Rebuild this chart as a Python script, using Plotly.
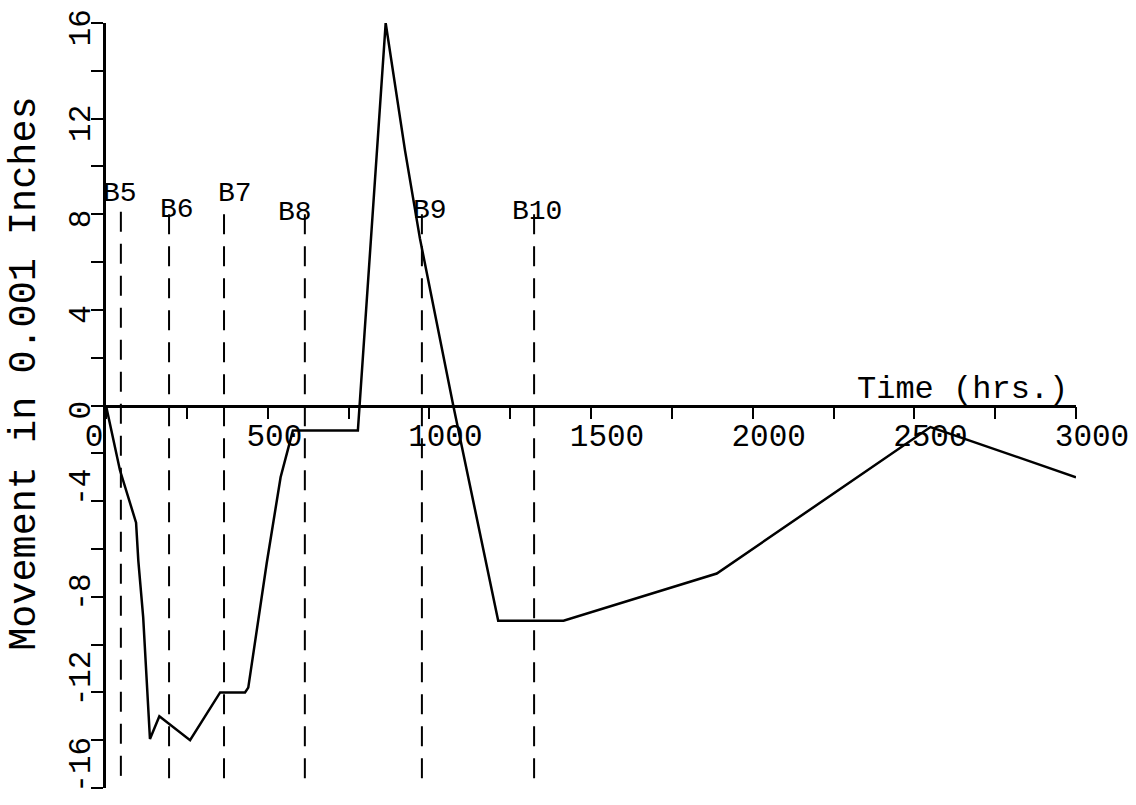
import plotly.graph_objects as go

# ---- data ----
time_hrs = [0, 43, 93, 100, 115, 126, 136, 165, 260, 353, 430, 440, 497, 540, 578,
            779, 865, 925, 971, 1074, 1213, 1415, 1889, 2550, 3000]
movement = [0, -2.7, -4.9, -6.5, -8.85, -11.35, -13.95, -13.0, -14.0, -12.0, -12.0,
            -11.8, -6.6, -3.0, -1.05, -1.05, 16.0, 10.65, 6.98, 0.0, -9.0, -9.0,
            -7.03, -0.9, -3.0]

marker_names = ["B5", "B6", "B7", "B8", "B9", "B10"]
marker_time = [46, 195, 365, 615, 977, 1324]
marker_top = [8.1, 8.0, 8.0, 8.0, 8.0, 8.0]
marker_bottom = [-15.7, -15.7, -15.7, -15.7, -15.7, -16.0]
label_time = [43, 220, 399, 585, 1002, 1333]
label_move = [8.86, 8.19, 8.86, 8.07, 8.15, 8.1]

x_tick_vals = [0, 250, 500, 750, 1000, 1250, 1500, 1750, 2000, 2250, 2500, 2750, 3000]
x_tick_text = ["0", "", "500", "", "1000", "", "1500", "", "2000", "", "2500", "", "3000"]
y_tick_vals = [-16, -14, -12, -10, -8, -6, -4, -2, 0, 2, 4, 6, 8, 10, 12, 14, 16]
y_tick_text = ["-16", "", "-12", "", "-8", "", "-4", "", "0", "", "4", "", "8", "", "12", "", "16"]

x_title = "Time (hrs.)"
y_title = "Movement in 0.001 Inches"

FONT = "Liberation Mono, Courier New, monospace"
NB = "\u00a0"

# pad x tick labels to 4 chars (left-aligned look of the original)
x_tick_padded = [t + NB * (4 - len(t)) if t else "" for t in x_tick_text]
# rotated y labels sit slightly off-centre in the original: negatives a bit
# higher, positives a bit lower (padding spaces on the opposite side)
y_tick_padded = []
for v, t in zip(y_tick_vals, y_tick_text):
    if not t or v == -8:
        y_tick_padded.append(t)
    elif v == -16:
        y_tick_padded.append(NB + NB + t)
    elif v < 0:
        y_tick_padded.append(NB + t)
    else:
        y_tick_padded.append(t + NB)

fig = go.Figure()

for name, t, top, bot in zip(marker_names, marker_time, marker_top, marker_bottom):
    fig.add_trace(go.Scatter(
        x=[t, t], y=[top, bot], mode="lines",
        line=dict(color="black", width=2, dash="20px,12px"),
        hoverinfo="skip", showlegend=False))

fig.add_trace(go.Scatter(
    x=time_hrs, y=movement, mode="lines",
    line=dict(color="black", width=2.5),
    showlegend=False))

for name, lx, ly in zip(marker_names, label_time, label_move):
    fig.add_annotation(x=lx, y=ly, xref="x", yref="y", text=name, showarrow=False,
                       font=dict(family=FONT, size=28, color="black"),
                       xanchor="center", yanchor="middle")

fig.add_annotation(x=3000, y=0, xref="x", yref="y", text=x_title, showarrow=False,
                   font=dict(family=FONT, size=32, color="black"),
                   xanchor="right", yanchor="bottom", xshift=-6, yshift=-4)

fig.add_annotation(x=-0.083, y=0.542, xref="paper", yref="paper", text=y_title,
                   showarrow=False, textangle=-90,
                   font=dict(family=FONT, size=38.5, color="black"),
                   xanchor="center", yanchor="middle", borderpad=0)

fig.update_layout(
    width=1136, height=805,
    margin=dict(l=106, r=60, t=23, b=17, autoexpand=False),
    paper_bgcolor="white", plot_bgcolor="white",
    showlegend=False,
    xaxis=dict(
        range=[0, 3000], anchor="free", position=0.5, side="bottom",
        automargin=False,
        showgrid=False, zeroline=False,
        showline=True, linecolor="black", linewidth=2.5,
        tickmode="array", tickvals=x_tick_vals, ticktext=x_tick_padded,
        ticks="outside", ticklen=12, tickwidth=1.5, tickcolor="black",
        ticklabelshift=16, ticklabelstandoff=-10, ticklabeloverflow="allow",
        tickfont=dict(family=FONT, size=31, color="black"),
    ),
    yaxis=dict(
        range=[-16, 16], automargin=False, showgrid=False, zeroline=False,
        showline=True, linecolor="black", linewidth=2.5,
        tickmode="array", tickvals=y_tick_vals, ticktext=y_tick_padded,
        ticks="outside", ticklen=12, tickwidth=1.5, tickcolor="black",
        tickangle=-90, ticklabelstandoff=-11, ticklabeloverflow="allow",
        tickfont=dict(family=FONT, size=31, color="black"),
    ),
)

# remove the browser's default 8px body margin so the figure fills the window
fig.write_html("out.html", config={"displayModeBar": False},
               post_script="document.body.style.margin='0';")
